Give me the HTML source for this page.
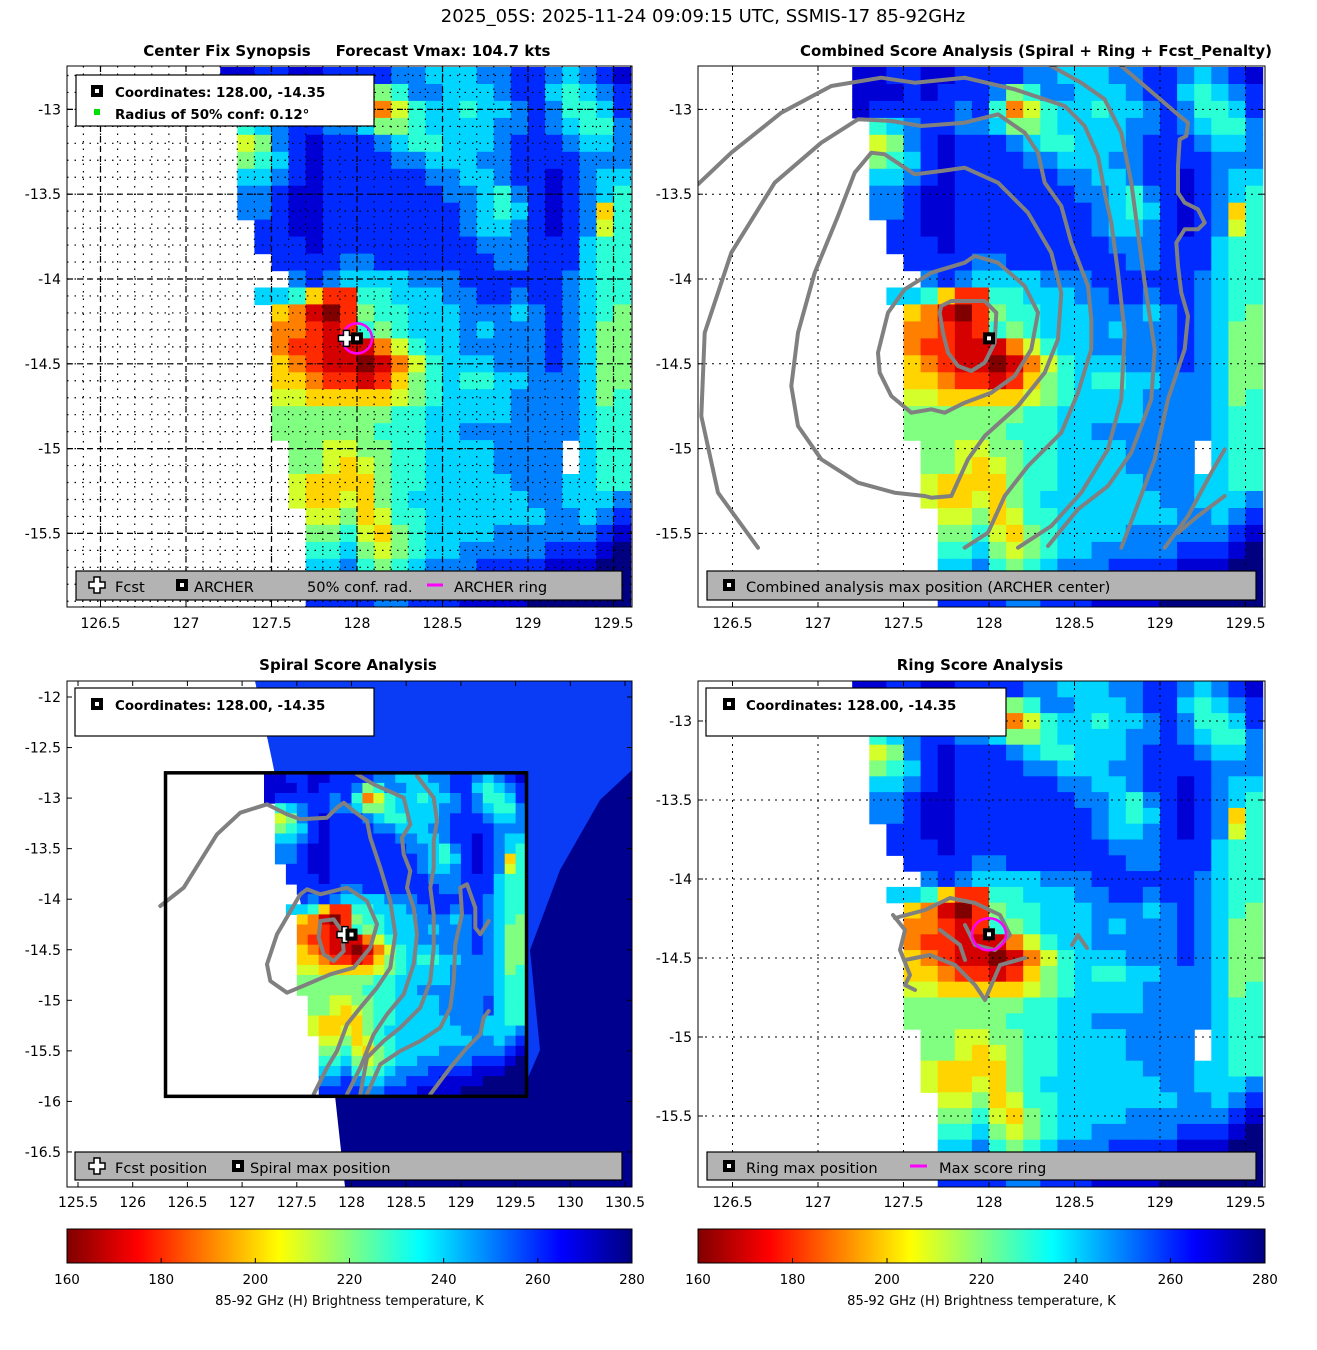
<!DOCTYPE html>
<html><head><meta charset="utf-8"><style>
body{margin:0;background:#fff}
svg{display:block;font-family:"DejaVu Sans","Liberation Sans",sans-serif}
</style></head><body>
<svg id="fig" width="1317" height="1350" viewBox="0 0 1317 1350" xmlns="http://www.w3.org/2000/svg">
<defs>
<clipPath id="cp1"><rect x="67" y="66" width="565" height="541"/></clipPath>
<clipPath id="cp2"><rect x="698" y="66" width="567" height="541"/></clipPath>
<clipPath id="cp3"><rect x="67" y="681" width="565" height="506"/></clipPath>
<clipPath id="cp4"><rect x="698" y="681" width="567" height="506"/></clipPath>
<linearGradient id="cbgrad" x1="0" x2="1" y1="0" y2="0"></linearGradient>
</defs>
<text x="703" y="22" text-anchor="middle" font-size="18">2025_05S: 2025-11-24 09:09:15 UTC, SSMIS-17 85-92GHz</text>
<text x="227" y="56" text-anchor="middle" font-size="15" font-weight="bold">Center Fix Synopsis</text>
<text x="443" y="56" text-anchor="middle" font-size="15" font-weight="bold">Forecast Vmax: 104.7 kts</text>
<text x="1036" y="56" text-anchor="middle" font-size="15" font-weight="bold">Combined Score Analysis (Spiral + Ring + Fcst_Penalty)</text>
<text x="348" y="670" text-anchor="middle" font-size="15" font-weight="bold">Spiral Score Analysis</text>
<text x="980" y="670" text-anchor="middle" font-size="15" font-weight="bold">Ring Score Analysis</text>
<g id="p1" clip-path="url(#cp1)"></g>
<g id="p2" clip-path="url(#cp2)"></g>
<g id="p3" clip-path="url(#cp3)"></g>
<g id="p4" clip-path="url(#cp4)"></g>
<g id="axes"></g>
<g id="overlay"></g>
</svg>
<script>
// ---- data: brightness temperature grid, 0.1 deg cells (a=160K ... m=280K, '.' = missing) ----
const lonStart = 126.30;
const latStart = -12.75;
const cellDeg = 0.10;
const tbRows = [
".........llkkllk"+"kkkjjiiijjkkjijkl",
".........lllklkk"+"kjghjjiiijkkihijk",
".........lkkkkkj"+"khdfhiihiijkjhhik",
"..........hijkkj"+"jigghiiiijjkjihhj",
"..........fgjklk"+"kkjihhiiijkkkjiij",
"..........ghiklk"+"kkkjjiiijjkkkkjjj",
"..........iijklk"+"kkkkkjjiijkklkjii",
"..........jjkllk"+"kkkkkkjjihjklkjih",
"..........jjkllk"+"kkkkkkkjihiklkjeh",
"...........kkllk"+"kkkkkkkjiijklkjfh",
"...........kkklk"+"kkkkkkkkjjjkkkihh",
"............kkkk"+"jjkkkkkkkjjkkkihh",
".............jkj"+"iiiijjjkkkkkkjihh",
"...........iihec"+"chhiiijjkkjkkjihh",
"............edba"+"cghhiiijjjijkjihg",
"............ddcb"+"chghiiijijjjkjigg",
"............dccb"+"bbdfhiijjjjjkjigg",
"............edcb"+"babdfhiiijjjkjigg",
"............eedc"+"cbceghihhiijjjigg",
"............ffee"+"eeefghiiiijjjjigh",
"............gggg"+"ggghhiiiiijjjjihh",
"............gggg"+"gghhhiijjjjjjjihh",
".............ggf"+"fgghhiiiijjjj.ihh",
".............ggf"+"efghhiiiijjjj.ihh",
".............fee"+"eeghhiiiiijjjiihh",
".............fee"+"feghiiiiiiijjiiij",
"..............ff"+"gefhhiiiiiiijjijk",
"..............gg"+"hfeghiiiijjjjjjkl",
"..............hh"+"igfghiijjjjjkkklm",
"..............ii"+"jhghijjjkkkklllmm",
"..............jj"+"kjiijjkkkllllmmmm",
"..............kk"+"kkjjkkkllllmmmmmm"
];
const cbTicks = [160,180,200,220,240,260,280];
const p1XTicks = [126.5,127,127.5,128,128.5,129,129.5];
const p1YTicks = [-13,-13.5,-14,-14.5,-15,-15.5];
const p3XTicks = [125.5,126,126.5,127,127.5,128,128.5,129,129.5,130,130.5];
const p3YTicks = [-12,-12.5,-13,-13.5,-14,-14.5,-15,-15.5,-16,-16.5];
const p4YTicks = [-13,-13.5,-14,-14.5,-15,-15.5];
const centerLon = 128.00, centerLat = -14.35;
const fcstLon = 127.95, fcstLat = -14.35;
// traced contours (reference crop coordinates, 3x)
const p2Contours = [
[[730,720],[760,705],[860,705],[895,740],[890,830],[860,890],[820,915],[780,900],[750,860],[735,800],[725,740],[730,720]],
[[540,860],[570,740],[620,670],[700,620],[800,590],[830,570],[900,590],[980,660],[1020,740],[1000,850],[950,930],[880,980],[800,1010],[740,1040],[700,1030],[640,1040],[580,990],[545,920],[540,860]],
[[680,1290],[590,1280],[480,1250],[370,1180],[300,1080],[280,960],[300,800],[350,620],[420,450],[470,320],[520,260],[560,265],[650,325],[730,315],[800,305],[900,350],[990,440],[1060,560],[1090,680],[1080,820],[1040,920],[960,1020],[860,1110],[810,1180],[760,1290],[700,1295],[680,1290]],
[[180,1445],[60,1280],[10,1050],[20,800],[100,560],[230,350],[370,230],[480,160],[580,165],[670,180],[800,170],[900,145],[980,200],[1020,260],[1040,350],[1090,420],[1120,530],[1170,660],[1180,760],[1180,850],[1140,980],[1090,1100],[990,1200],[920,1290],[870,1400],[800,1445]],
[[0,355],[100,260],[250,140],[400,60],[550,35],[650,50],[800,35],[950,70],[1100,120],[1160,180],[1200,270],[1220,380],[1240,470],[1260,620],[1280,800],[1270,1000],[1230,1150],[1150,1280],[1060,1380],[960,1445]],
[[1060,0],[1150,50],[1220,100],[1270,200],[1300,350],[1320,500],[1340,650],[1370,850],[1360,1000],[1300,1160],[1230,1260],[1140,1330],[1050,1440]],
[[1270,0],[1340,60],[1410,120],[1445,150],[1470,170],[1465,210],[1445,220],[1440,300],[1440,380],[1460,410],[1500,430],[1520,470],[1500,490],[1460,490],[1435,530],[1440,600],[1450,680],[1470,750],[1460,850],[1410,1000],[1370,1180],[1310,1340],[1270,1445]],
[[1400,1445],[1470,1350],[1540,1220],[1580,1150]],
[[1580,1290],[1500,1350],[1440,1400]]
];
const p3Contours = [
[[760,720],[800,715],[825,750],[830,810],[800,840],[770,820],[755,770],[760,720]],
[[600,850],[630,760],[700,640],[720,625],[760,640],[840,620],[900,660],[930,730],[910,800],[860,860],[790,880],[720,910],[660,935],[610,900],[600,850]],
[[280,675],[350,620],[400,540],[450,460],[520,395],[600,370],[660,400],[700,415],[780,410],[810,380],[830,365],[860,390],[900,420],[910,470],[940,560],[970,660],[985,760],[970,860],[930,920],[880,980],[840,1030],[810,1110],[780,1160],[740,1240]],
[[870,280],[920,310],[1010,350],[1030,430],[1005,470],[1010,520],[1030,570],[1020,620],[1040,680],[1050,760],[1040,850],[1010,940],[960,1000],[920,1060],[880,1160],[840,1240]],
[[1050,285],[1100,350],[1110,420],[1100,480],[1100,560],[1090,620],[1100,700],[1100,800],[1090,900],[1060,980],[1000,1040],[950,1080],[900,1130],[880,1240]],
[[1265,720],[1240,760],[1225,740],[1225,680],[1200,610],[1180,620],[1185,700],[1165,790],[1160,900],[1150,980],[1120,1040],[1060,1080],[1000,1110],[940,1150],[900,1240]],
[[1265,990],[1250,1010],[1240,1060],[1200,1100],[1150,1160],[1090,1240]]
];
const p4Contours = [
[[895,918],[925,910],[950,898],[975,903],[1000,915],[1010,935],[995,950],[975,945],[965,925]],
[[905,960],[930,955],[955,965],[975,985],[985,1000],[1000,965],[1025,958]],
[[893,915],[905,930],[900,950],[910,975],[905,985],[915,990]],
[[940,930],[960,945],[965,960]],
[[1072,945],[1078,935],[1087,948]]
];

const NS = "http://www.w3.org/2000/svg";
function mk(tag, attrs, parent){const e=document.createElementNS(NS,tag);for(const k in attrs)e.setAttribute(k,attrs[k]);parent.appendChild(e);return e;}
function clamp(v){return Math.max(0,Math.min(1,v));}
function tbColor(T){const s=1-(T-160)/120;const r=clamp(1.5-Math.abs(4*s-3)),g=clamp(1.5-Math.abs(4*s-2)),b=clamp(1.5-Math.abs(4*s-1));return `rgb(${Math.round(r*255)},${Math.round(g*255)},${Math.round(b*255)})`;}
function codeToT(ch){return 160+(ch.charCodeAt(0)-97)*10;}

const panels = {
 p1:{x0:67,y0:66,w:565,h:541,xs:l=>357+(l-128)*171,ys:a=>279+(-14-a)*169.6},
 p2:{x0:698,y0:66,w:567,h:541,xs:l=>989+(l-128)*171,ys:a=>279+(-14-a)*169.6},
 p3:{x0:67,y0:681,w:565,h:506,xs:l=>78+(l-125.5)*109.4,ys:a=>697+(-12-a)*101.1},
 p4:{x0:698,y0:681,w:567,h:506,xs:l=>989+(l-128)*171,ys:a=>879+(-14-a)*158}
};

function drawGrid(id){
 const P=panels[id], g=document.getElementById(id);
 tbRows.forEach((row,r)=>{
  for(let c=0;c<row.length;c++){
   const ch=row[c]; if(ch==='.') continue;
   const lo=lonStart+c*cellDeg, la=latStart-r*cellDeg;
   const x1=P.xs(lo), x2=P.xs(lo+cellDeg), y1=P.ys(la), y2=P.ys(la-cellDeg);
   const rc=mk('rect',{x:x1.toFixed(1),y:y1.toFixed(1),width:(x2-x1+0.6).toFixed(1),height:(y2-y1+0.6).toFixed(1),fill:tbColor(codeToT(ch))},g);
   
   
  }
 });
}
function drawContours(id,arr,ox,oy){
 const g=document.getElementById(id);
 arr.forEach(pts=>{
  const d=pts.map((p,i)=>(i?'L':'M')+(ox+p[0]/3).toFixed(1)+' '+(oy+p[1]/3).toFixed(1)).join(' ');
  const pa=mk('path',{d:d,fill:'none',stroke:'#808080','stroke-width':4,'stroke-linejoin':'round','stroke-linecap':'round'},g);
  
  
 });
}
function drawScreenContours(id,arr){
 const g=document.getElementById(id);
 arr.forEach(pts=>{
  const d=pts.map((p,i)=>(i?'L':'M')+p[0]+' '+p[1]).join(' ');
  const pa=mk('path',{d:d,fill:'none',stroke:'#808080','stroke-width':4,'stroke-linejoin':'round','stroke-linecap':'round'},g);
  
  
 });
}
function dotted(id,vals,isX,dash,w){
 const P=panels[id], g=document.getElementById(id);
 vals.forEach(v=>{
  let ln;
  if(isX){const x=P.xs(v);ln=mk('line',{x1:x,x2:x,y1:P.y0,y2:P.y0+P.h,stroke:'#000','stroke-width':w,'stroke-dasharray':dash},g);}
  else{const y=P.ys(v);ln=mk('line',{x1:P.x0,x2:P.x0+P.w,y1:y,y2:y,stroke:'#000','stroke-width':w,'stroke-dasharray':dash},g);}
  
  
 });
}
function axisLabels(id,xt,yt,xLabelY){
 const P=panels[id], g=document.getElementById('axes');
 mk('rect',{x:P.x0,y:P.y0,width:P.w,height:P.h,fill:'none',stroke:'#000','stroke-width':1},g);
 xt.forEach(v=>{const x=P.xs(v);
  mk('line',{x1:x,x2:x,y1:P.y0+P.h,y2:P.y0+P.h-5,stroke:'#000'},g);
  mk('line',{x1:x,x2:x,y1:P.y0,y2:P.y0+5,stroke:'#000'},g);
  const t=mk('text',{x:x,y:xLabelY,'text-anchor':'middle','font-size':14},g);t.textContent=String(v);
  
  });
 yt.forEach(v=>{const y=P.ys(v);
  mk('line',{x1:P.x0,x2:P.x0+5,y1:y,y2:y,stroke:'#000'},g);
  mk('line',{x1:P.x0+P.w,x2:P.x0+P.w-5,y1:y,y2:y,stroke:'#000'},g);
  const t=mk('text',{x:P.x0-6,y:y+5,'text-anchor':'end','font-size':14},g);t.textContent=String(v);
  
  });
}
function sqMarker(x,y,parent,name){
 const g=mk('g',{},parent);
 
 
 mk('rect',{x:x-6,y:y-6,width:12,height:12,fill:'#000'},g);
 mk('rect',{x:x-2,y:y-2,width:4,height:4,fill:'#fff'},g);
 return g;
}
function crossMarker(x,y,parent,name){
 const g=mk('g',{},parent);
 
 
 mk('path',{d:`M${x-3} ${y-8}h6v5h5v6h-5v5h-6v-5h-5v-6h5z`,fill:'#fff',stroke:'#000','stroke-width':1.5},g);
 return g;
}

// panel 1
(function(){const g=document.getElementById('p1');mk('rect',{x:67,y:66,width:565,height:541,fill:'#fff'},g);})();
drawGrid('p1');
(function(){const v=[];for(let k=0;k<=33;k++)v.push(+(126.3+k*0.1).toFixed(2));dotted('p1',v,true,'1.5 6',1.2);
 const h=[];for(let k=0;k<=32;k++)h.push(+(-12.8-k*0.1).toFixed(2));dotted('p1',h,false,'1.5 6',1.2);
 dotted('p1',p1XTicks,true,'6 4',1.2);dotted('p1',p1YTicks,false,'6 4',1.2);})();
// panel 2
drawGrid('p2');
dotted('p2',p1XTicks,true,'2 5',1);dotted('p2',p1YTicks,false,'2 5',1);
drawContours('p2',p2Contours,698,66);
// panel 3
(function(){const g=document.getElementById('p3');
 mk('rect',{x:67,y:681,width:565,height:506,fill:'#0a3cf5'},g);
 mk('polygon',{points:'632,770 600,800 560,870 530,950 540,1050 520,1096 330,1096 345,1187 632,1187',fill:'#00008f'},g);
 mk('polygon',{points:'67,681 255,681 272,760 300,900 330,1050 345,1187 67,1187',fill:'#fff'},g);})();
drawGrid('p3');
drawContours('p3',p3Contours,67,681);
(function(){const g=document.getElementById('p3');const P=panels.p3;
 const b=mk('rect',{x:P.xs(126.3),y:P.ys(-12.75),width:P.xs(129.6)-P.xs(126.3),height:P.ys(-15.95)-P.ys(-12.75),fill:'none',stroke:'#000','stroke-width':3.5},g);
 
 })();
// panel 4
drawGrid('p4');
dotted('p4',p1XTicks,true,'2 5',1);dotted('p4',p4YTicks,false,'2 5',1);
drawScreenContours('p4',p4Contours);

axisLabels('p1',p1XTicks,p1YTicks,628);
axisLabels('p2',p1XTicks,p1YTicks,628);
axisLabels('p3',p3XTicks,p3YTicks,1207);
axisLabels('p4',p1XTicks,p4YTicks,1207);

// markers
(function(){const o=document.getElementById('overlay');
 const P1=panels.p1,P2=panels.p2,P3=panels.p3,P4=panels.p4;
 const ring1=mk('circle',{cx:P1.xs(centerLon),cy:P1.ys(centerLat),r:15,fill:'none',stroke:'#ff00ff','stroke-width':2.5},o);
 
 
 crossMarker(P1.xs(fcstLon)-2,P1.ys(fcstLat),o,'fcst-marker');
 sqMarker(P1.xs(centerLon),P1.ys(centerLat),o,'archer-marker');
 sqMarker(P2.xs(centerLon),P2.ys(centerLat),o,'combined-max-marker');
 crossMarker(P3.xs(fcstLon)-1,P3.ys(fcstLat),o,'spiral-fcst-marker');
 sqMarker(P3.xs(centerLon),P3.ys(centerLat),o,'spiral-max-marker');
 const ring4=mk('ellipse',{cx:P4.xs(centerLon),cy:P4.ys(centerLat),rx:17,ry:16,fill:'none',stroke:'#ff00ff','stroke-width':2.5},o);
 
 
 sqMarker(P4.xs(centerLon),P4.ys(centerLat),o,'ring-max-marker');
})();

// colorbars
(function(){const gr=document.getElementById('cbgrad');
 for(let k=0;k<=24;k++){const T=160+k*5;mk('stop',{offset:(k/24).toFixed(3),'stop-color':tbColor(T)},gr);}
 const o=document.getElementById('overlay');
 [[67,632],[698,1265]].forEach(([x0,x1],i)=>{
  const r=mk('rect',{x:x0,y:1229,width:x1-x0,height:34,fill:'url(#cbgrad)',stroke:'#000','stroke-width':1},o);
  
  
  cbTicks.forEach(v=>{const x=x0+(v-160)/120*(x1-x0);
   mk('line',{x1:x,x2:x,y1:1263,y2:1258,stroke:'#000'},o);
   const t=mk('text',{x:x,y:1284,'text-anchor':'middle','font-size':13.5},o);t.textContent=String(v);
   
   });
  const lb=mk('text',{x:(x0+x1)/2,y:1305,'text-anchor':'middle','font-size':13},o);lb.textContent='85-92 GHz (H) Brightness temperature, K';
  
  
 });
})();

// legends
(function(){const o=document.getElementById('overlay');
 function box(x,y,w,h,fill,name){const r=mk('rect',{x:x,y:y,width:w,height:h,fill:fill,stroke:'#000','stroke-width':1.2},o);}
 function txt(x,y,s,bold,name){const t=mk('text',{x:x,y:y,'font-size':bold?13.4:14.6,'font-weight':bold?'bold':'normal'},o);t.textContent=s;}
 box(76,75,298,51,'#fff','info-legend-p1');
 sqMarker(97,91,o,'legend-archer-icon');
 txt(115,97,'Coordinates: 128.00, -14.35',true,'coordinates-text');
 mk('rect',{x:94,y:109,width:6,height:6,fill:'#00e000'},o);
 txt(115,119,'Radius of 50% conf: 0.12°',true,'confidence-radius-text');
 box(76,571,546,29,'#b3b3b3','legend-p1');
 crossMarker(97,585,o,'legend-fcst-icon');txt(115,592,'Fcst',false,'legend-fcst');
 sqMarker(182,585,o,'legend-archer-icon');txt(194,592,'ARCHER',false,'legend-archer');
 txt(307,592,'50% conf. rad.',false,'legend-conf-rad');
 mk('line',{x1:427,x2:443,y1:585,y2:585,stroke:'#ff00ff','stroke-width':3},o);txt(454,592,'ARCHER ring',false,'legend-archer-ring');
 box(707,571,549,29,'#b3b3b3','legend-p2');
 sqMarker(729,585,o,'legend-combined-icon');txt(746,592,'Combined analysis max position (ARCHER center)',false,'legend-combined-max');
 box(75,688,299,48,'#fff','info-legend-p3');
 sqMarker(97,704,o,'legend-coord-icon');txt(115,710,'Coordinates: 128.00, -14.35',true,'coordinates-text');
 box(75,1152,547,28,'#b3b3b3','legend-p3');
 crossMarker(97,1166,o,'legend-fcst-icon');txt(115,1173,'Fcst position',false,'legend-fcst-position');
 sqMarker(238,1166,o,'legend-spiral-icon');txt(250,1173,'Spiral max position',false,'legend-spiral-max');
 box(706,688,300,48,'#fff','info-legend-p4');
 sqMarker(729,704,o,'legend-coord-icon');txt(746,710,'Coordinates: 128.00, -14.35',true,'coordinates-text');
 box(707,1152,549,28,'#b3b3b3','legend-p4');
 sqMarker(729,1166,o,'legend-ring-icon');txt(746,1173,'Ring max position',false,'legend-ring-max');
 mk('line',{x1:910,x2:927,y1:1166,y2:1166,stroke:'#ff00ff','stroke-width':3},o);txt(939,1173,'Max score ring',false,'legend-max-score-ring');
})();
</script>
</body></html>
